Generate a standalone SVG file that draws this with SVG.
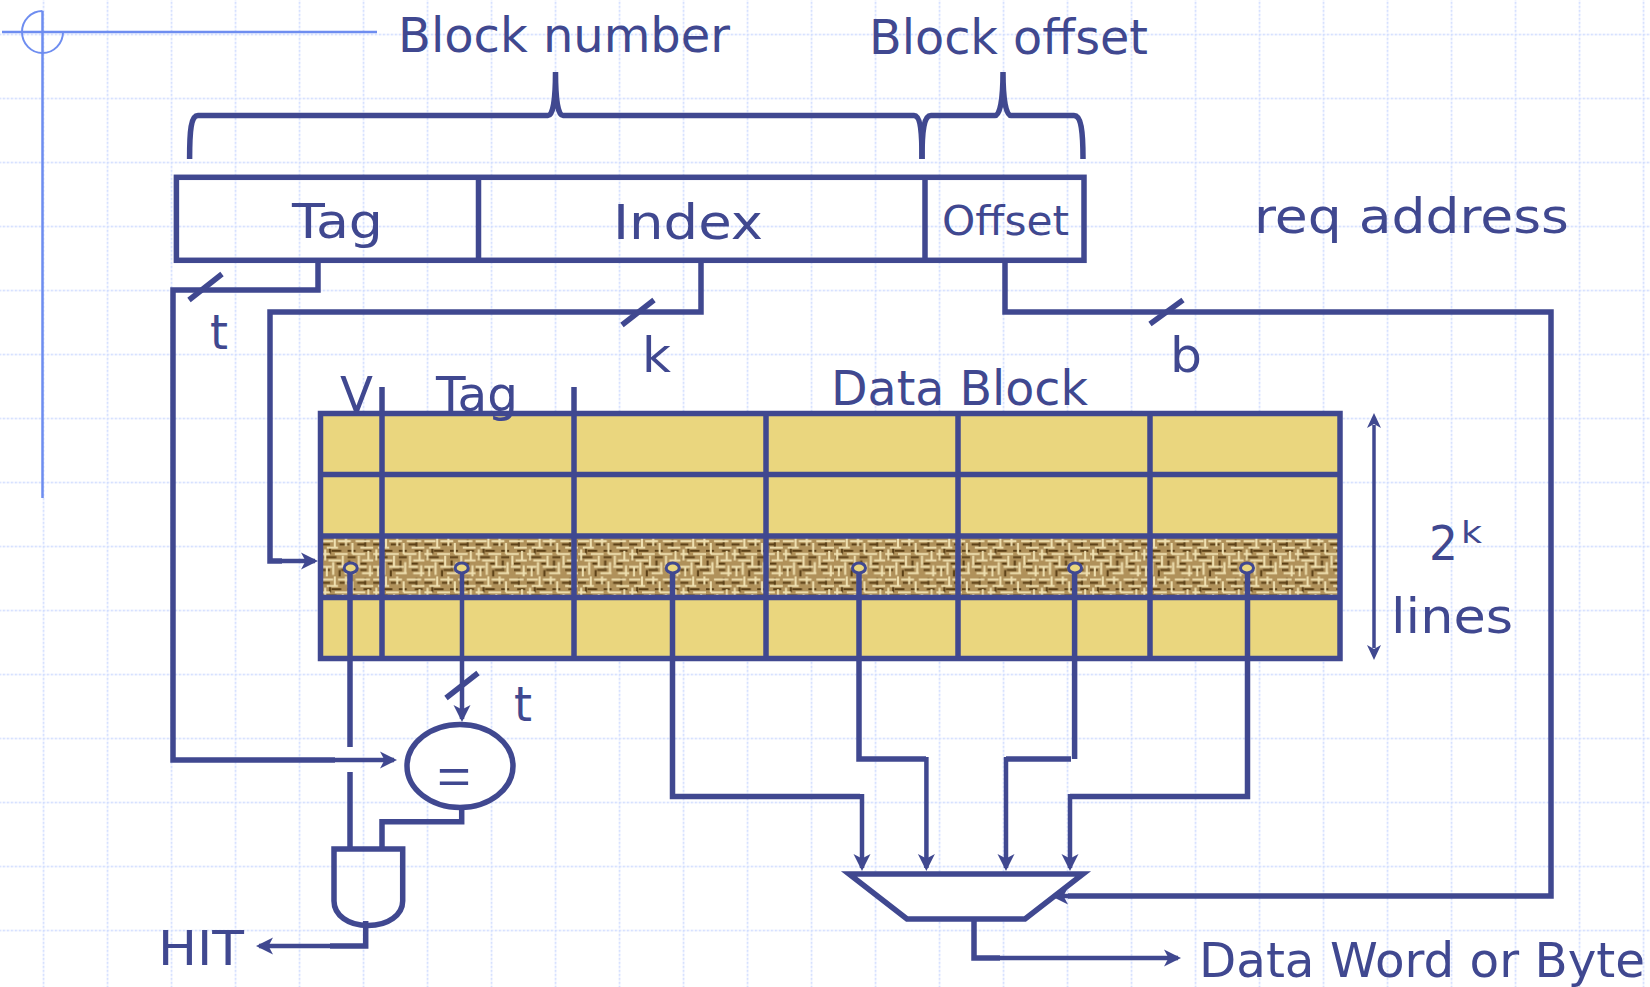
<svg xmlns="http://www.w3.org/2000/svg" width="1650" height="987" viewBox="0 0 1650 987">
<style>
.w{fill:none;stroke:#404890;stroke-width:5.5;stroke-linejoin:miter}
.t{fill:none;stroke:#404890;stroke-width:4.5}
.a{marker-end:url(#arr)}
.cell{fill:#ead67e;stroke:none}
text{fill:#404890;font-family:"DejaVu Sans","Liberation Sans",sans-serif;font-size:48px}
.x{fill:none;stroke:#6e8df0}
</style>
<defs>
<pattern id="grid" width="64" height="64" patternUnits="userSpaceOnUse" patternTransform="translate(42.7 33.7)">
<path d="M0 0V64M0 0H64" stroke="#cfdcff" stroke-width="3" stroke-dasharray="2.5 1.5" fill="none"/>
</pattern>
<pattern id="weave" width="32" height="24" patternUnits="userSpaceOnUse" patternTransform="translate(322 538) scale(1.6)">
<rect width="32" height="24" fill="#b0915a"/>
<path d="M0 4h5M11 4h6M22 4h5M6 8h6M16 8h5M26 8h5M1 12h8M16 12h5M9 16h3M24 16h4M0 20h5M12 20h6M24 20h4M5 6v4M17 14v5M27 1v5M11 20v4" stroke="#5a3f16" stroke-width="1.3"/>
<path d="M0 2h7M10 2h8M21 2h9M3 6h7M24 6h8M0 10h5M8 10h8M19 10h8M4 14h8M25 14h7M0 18h6M10 18h9M22 18h6M14 22h7M25 22h7M8 0v6M15 0v5M19 3v7M29 8v6M2 7v7M13 11v7M23 11v6M7 15v8M20 15v7M30 17v7M3 18v6" stroke="#efe0b0" stroke-width="1.3"/>
</pattern>
<marker id="arr" markerUnits="userSpaceOnUse" markerWidth="20" markerHeight="20" viewBox="0 0 20 20" refX="14" refY="10" orient="auto">
<path d="M0 1.5L17 10L0 18.5L4.5 10Z" fill="#404890"/>
</marker>
</defs>
<rect id="background" width="1650" height="987" fill="#fff"/>
<rect id="gridlines" width="1650" height="987" fill="url(#grid)"/>
<g id="crosshair">
<path class="x" stroke-width="2.5" d="M2 32H377M42.5 11V498"/>
<path class="x" stroke-width="2" d="M42.5 11A20.5 21 0 1 0 63 32"/>
</g>
<g id="brace-block-number"><path class="w" d="M189.6 159C189.6 130 191 115.6 198 115.6H548C553 115.6 555.5 100 555.5 72C555.5 100 558 115.6 563 115.6H914C920 115.6 922 130 922 159"/></g>
<g id="brace-block-offset"><path class="w" d="M922 159C922 130 924 115.6 931 115.6H995C1000 115.6 1003 100 1003 72C1003 100 1006 115.6 1011 115.6H1074C1081 115.6 1083 130 1083 159"/></g>
<g id="label-block-number"><text x="398" y="52" textLength="332" lengthAdjust="spacingAndGlyphs">Block number</text></g>
<g id="label-block-offset"><text x="869" y="54" textLength="279" lengthAdjust="spacingAndGlyphs">Block offset</text></g>
<g id="req-address">
<rect class="w" x="176.4" y="177.3" width="907.6" height="83"/>
<path class="w" d="M478.5 177.3V260M925 177.3V260"/>
<text x="292" y="238" textLength="91" lengthAdjust="spacingAndGlyphs">Tag</text>
<text x="613" y="239" textLength="150" lengthAdjust="spacingAndGlyphs">Index</text>
<text x="942" y="235" style="font-size:40px" textLength="127" lengthAdjust="spacingAndGlyphs">Offset</text>
</g>
<g id="label-req"><text x="1254" y="233" textLength="315" lengthAdjust="spacingAndGlyphs">req address</text></g>
<g id="label-t1"><text x="210" y="349" textLength="18" lengthAdjust="spacingAndGlyphs">t</text></g>
<g id="label-k"><text x="642" y="372" textLength="29" lengthAdjust="spacingAndGlyphs">k</text></g>
<g id="label-b"><text x="1170" y="372" textLength="32" lengthAdjust="spacingAndGlyphs">b</text></g>
<g id="label-data-block"><text x="831" y="405" textLength="257" lengthAdjust="spacingAndGlyphs">Data Block</text></g>
<g id="cache-table">
<rect class="cell" x="320" y="413.5" width="1020" height="245"/>
<rect fill="url(#weave)" x="320" y="536" width="1020" height="61.5"/>
<rect class="w" x="320.5" y="413.5" width="1019.5" height="245"/>
<path class="w" d="M320 474.5H1340M320 536H1340M320 597.5H1340M382 387V658M574 387V658M766 413V658M958 413V658M1150 413V658"/>
</g>
<g id="label-v"><text x="340" y="411" textLength="33" lengthAdjust="spacingAndGlyphs">V</text></g>
<g id="label-tag2"><text x="436" y="411" textLength="82" lengthAdjust="spacingAndGlyphs">Tag</text></g>
<g id="lines-size">
<path class="t" style="stroke-width:3.5" d="M1374 425V648"/>
<path fill="#404890" d="M1374 413L1381 428L1374 424L1367 428ZM1374 660L1381 645L1374 649L1367 645Z"/>
<text x="1429" y="560" textLength="29" lengthAdjust="spacingAndGlyphs">2</text>
<text x="1461" y="543" style="font-size:30px" textLength="21" lengthAdjust="spacingAndGlyphs">k</text>
<text x="1391" y="633" textLength="122" lengthAdjust="spacingAndGlyphs">lines</text>
</g>
<g id="connectors">
<path class="w" d="M318 260V290H173V760H335"/>
<path class="t a" d="M335 760H394"/>
<path class="w" d="M701 260V312H270V561H282"/>
<path class="t a" d="M282 561H315"/>
<path class="w" d="M1005 260V312H1551V896H1068"/>
<path class="t a" d="M1068 896H1054"/>
<path class="w" d="M350 568V747M350 772V848"/>
<path class="t a" d="M462 568V719"/>
<path class="w" d="M672.5 568V796.5H860"/>
<path class="t a" d="M862 794V868"/>
<path class="w" d="M859 568V759H926"/>
<path class="t a" d="M926.4 757V868"/>
<path class="w" d="M1074.6 568V759M1071 759H1006"/>
<path class="t a" d="M1006 757V868"/>
<path class="w" d="M1247.5 568V796.5H1070"/>
<path class="t a" d="M1070 794V868"/>
<path class="w" d="M974 919V958H1000"/>
<path class="t a" d="M1000 958H1178"/>
<path class="w" d="M461.7 807V821.7H382V849"/>
<path class="w" d="M365.7 921V946H330"/>
<path class="t a" d="M330 946H259"/>
<path class="w" d="M189 300L222 274M622 325L654 300M1150 324L1183 300M446 698L478 673"/>
</g>
<g id="taps" fill="#ead67e" stroke="#404890" stroke-width="3">
<ellipse cx="350.7" cy="568" rx="6.5" ry="5"/>
<ellipse cx="461.7" cy="568" rx="6.5" ry="5"/>
<ellipse cx="672.7" cy="568" rx="6.5" ry="5"/>
<ellipse cx="859" cy="568" rx="6.5" ry="5"/>
<ellipse cx="1075" cy="568" rx="6.5" ry="5"/>
<ellipse cx="1247" cy="568" rx="6.5" ry="5"/>
</g>
<g id="label-t2"><text x="514" y="721" textLength="18" lengthAdjust="spacingAndGlyphs">t</text></g>
<g id="comparator">
<ellipse class="w" style="fill:#fff" cx="460" cy="766" rx="53" ry="41.5"/>
<text x="437" y="793" style="font-family:'Liberation Sans',sans-serif;font-size:50px" textLength="34" lengthAdjust="spacingAndGlyphs">=</text>
</g>
<g id="and-gate"><path class="w" d="M334 849H402.7V901C402.7 915 388 925.5 368 925.5C348 925.5 334 915 334 901Z"/></g>
<g id="label-hit"><text x="158" y="965" textLength="86" lengthAdjust="spacingAndGlyphs">HIT</text></g>
<g id="mux"><path class="w" style="fill:#fff" d="M849 874H1083L1025 919H907Z"/></g>
<g id="label-output"><text x="1199" y="977" textLength="446" lengthAdjust="spacingAndGlyphs">Data Word or Byte</text></g>
</svg>
